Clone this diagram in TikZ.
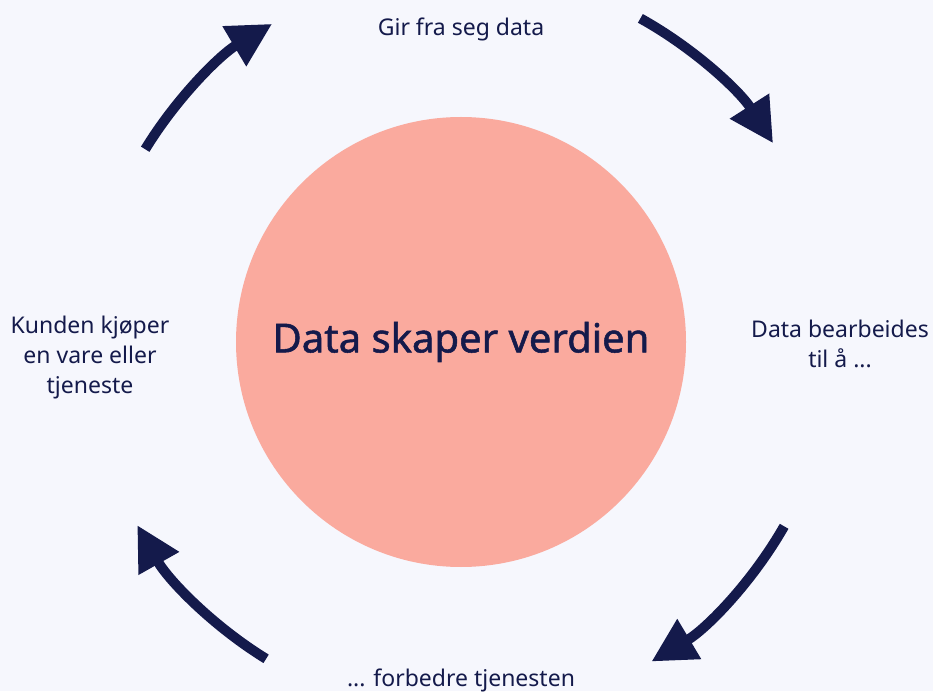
\documentclass[tikz,border=0pt]{standalone}
\usepackage{fontspec}
\setmainfont{Noto Sans}
\newfontfamily\titlefont{Noto Sans}[FakeBold=1.3]
\usetikzlibrary{arrows.meta}
\definecolor{bg}{HTML}{F6F7FD}
\definecolor{navy}{HTML}{141A4B}
\definecolor{salmon}{HTML}{FAAA9E}
\tikzset{
  cyclearrow/.style={draw=navy, line width=10pt, -{Triangle[length=44pt,width=44pt]}},
  lbl/.style={text=navy, font=\fontsize{23}{30}\selectfont, align=center, inner sep=0pt},
}
\begin{document}
\begin{tikzpicture}[x=1pt,y=1pt]
\fill[bg] (0,0) rectangle (933,691);
\useasboundingbox (0,0) rectangle (933,691);
\coordinate (c) at (461,349);
\node[circle, fill=salmon, minimum size=450pt, inner sep=0pt] (hub) at (c) {};
\node[text=navy, font=\fontsize{40}{46}\titlefont] (title) at (c) {Data skaper verdien};
\node[lbl] (top) at (461,662) {Gir fra seg data};
\node[lbl] (right) at (840,347) {Data bearbeides\\til å ...};
\node[lbl] (bottom) at (461,11) {... forbedre tjenesten};
\node[lbl] (left) at (90,333) {Kunden kjøper\\en vare eller\\tjeneste};
\draw[cyclearrow] (c) ++(148.6:370pt) arc[start angle=148.6, end angle=120.7, radius=370pt];
\draw[cyclearrow] (c) ++(61:370pt) arc[start angle=61, end angle=32.5, radius=370pt];
\draw[cyclearrow] (c) ++(-29.7:372pt) arc[start angle=-29.7, end angle=-59.2, radius=372pt];
\draw[cyclearrow] (c) ++(238.4:372pt) arc[start angle=238.4, end angle=209.5, radius=372pt];
\end{tikzpicture}
\end{document}
